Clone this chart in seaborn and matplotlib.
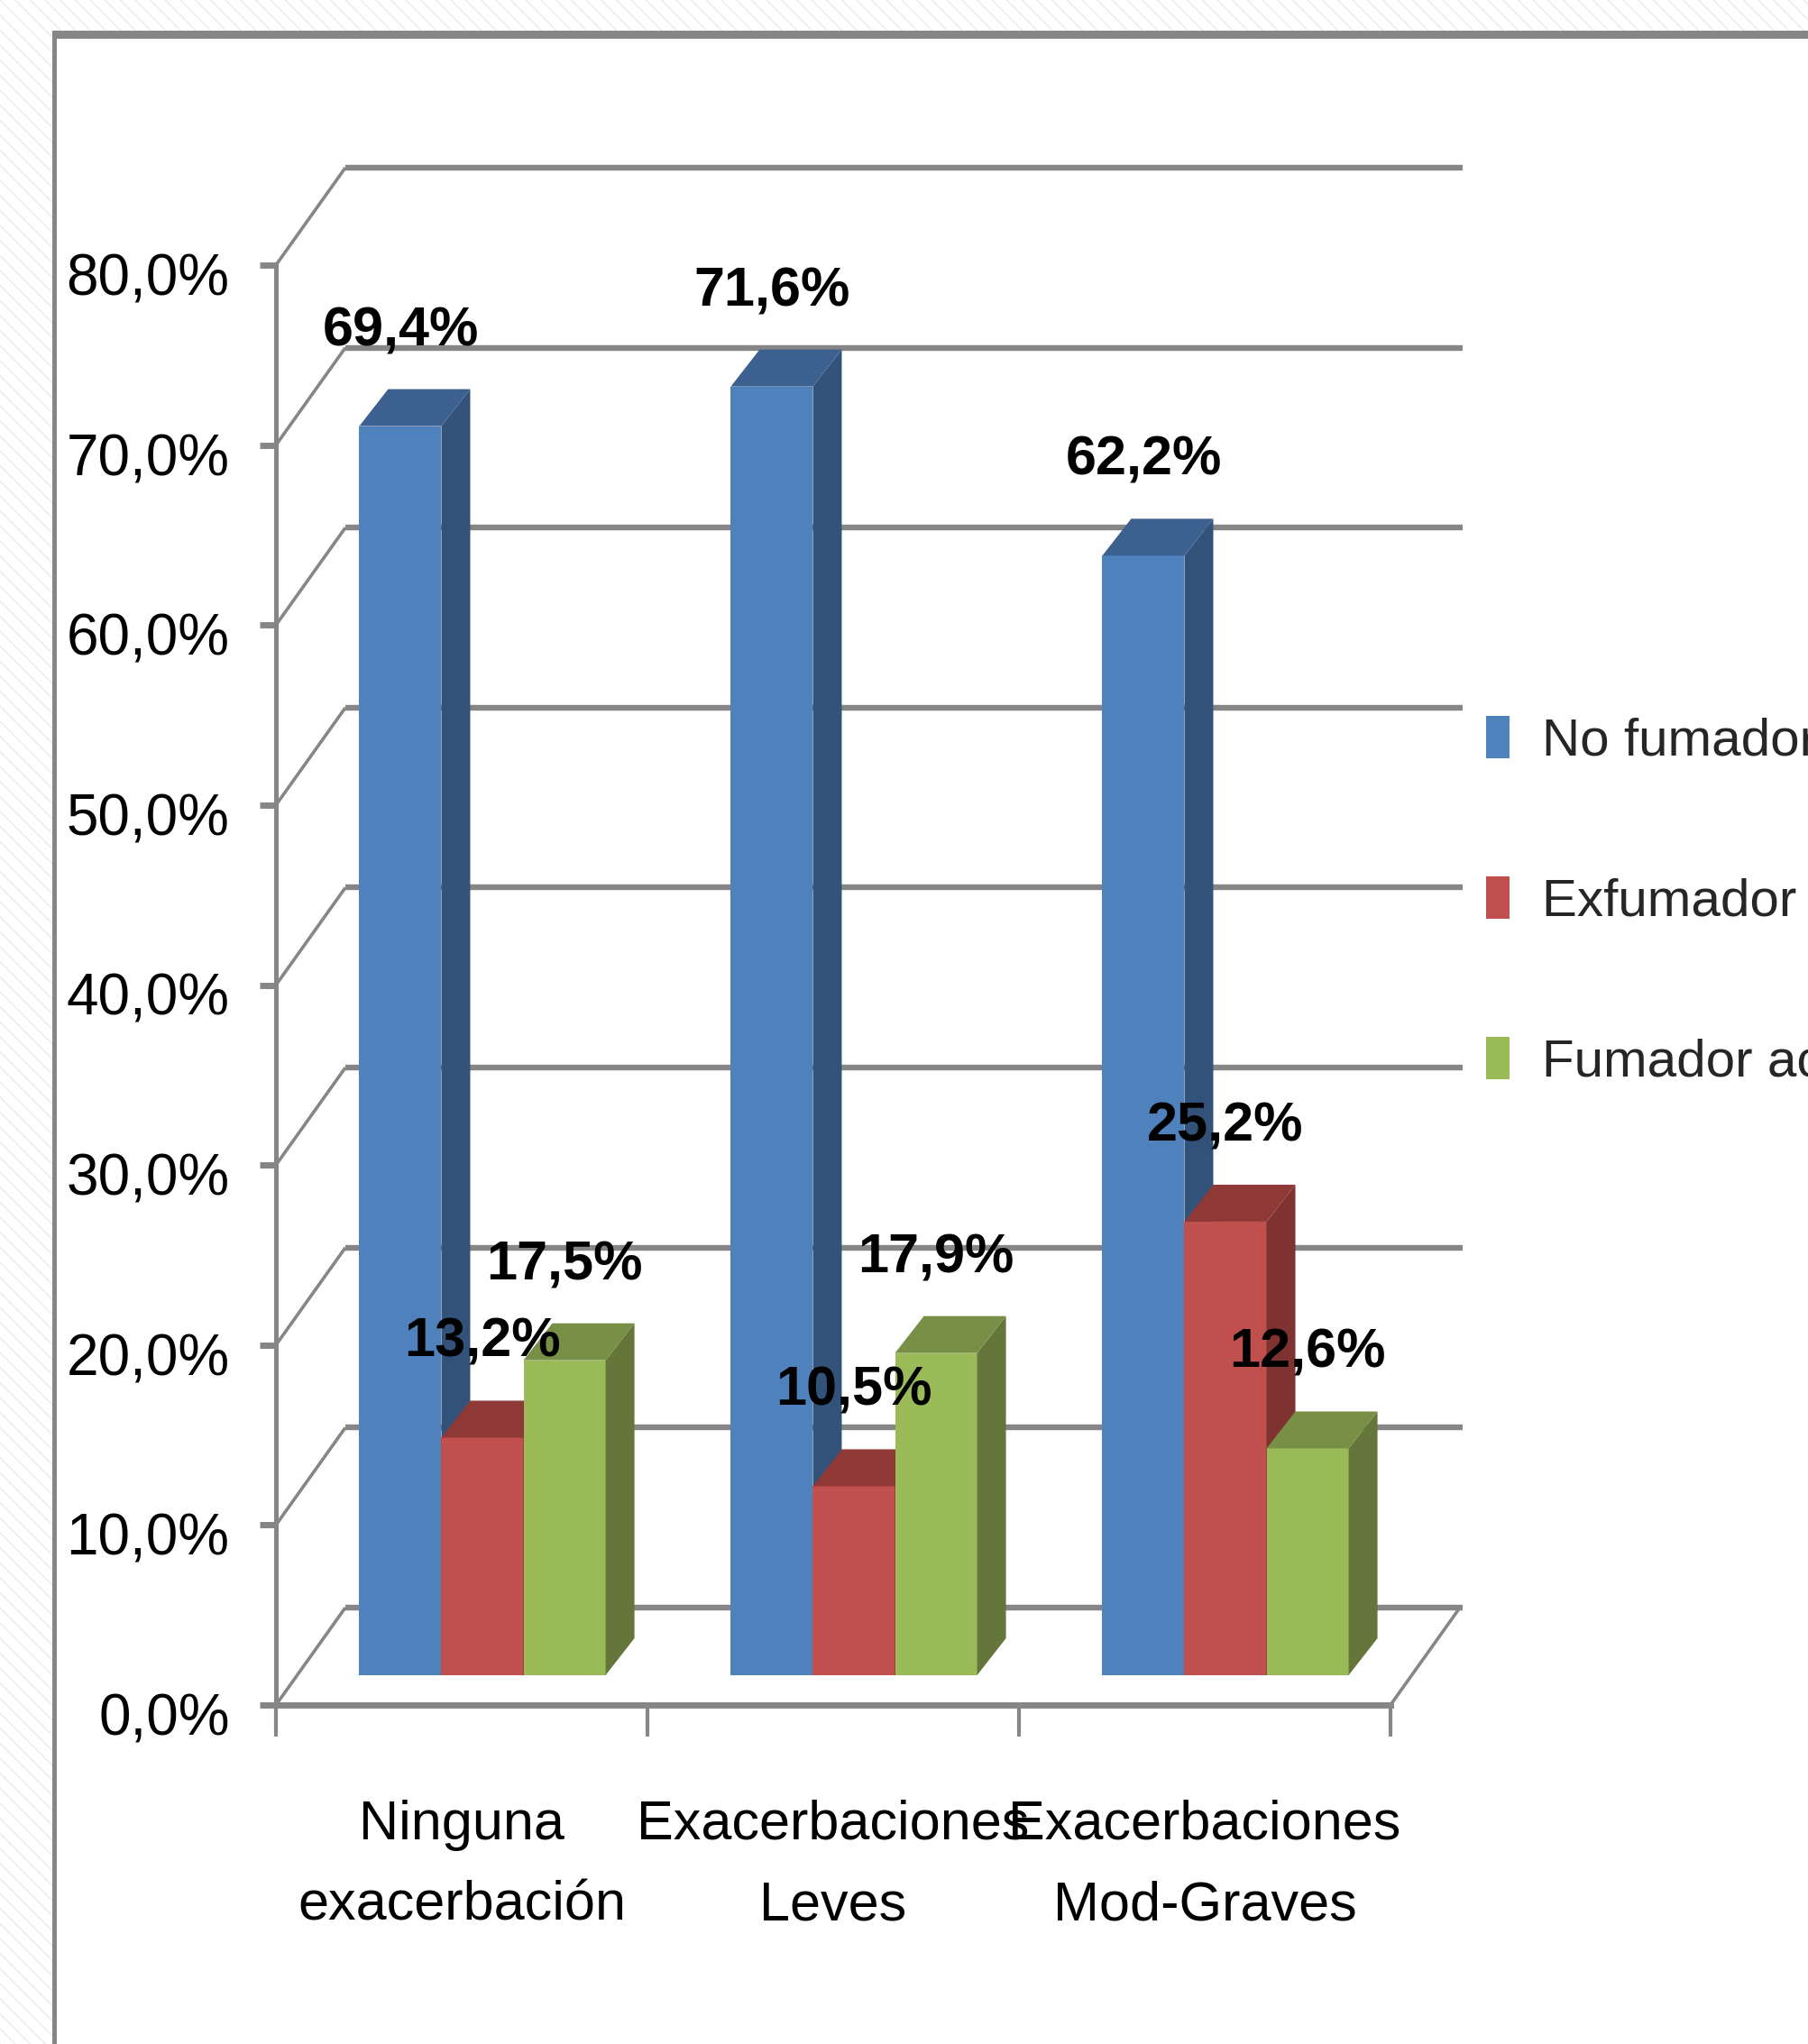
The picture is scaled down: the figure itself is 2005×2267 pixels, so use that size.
import pandas as pd
import seaborn as sns
from matplotlib import pyplot as plt
from matplotlib.patches import Patch, Polygon, Rectangle
from matplotlib.transforms import ScaledTranslation

categories = ["Ninguna\nexacerbación", "Exacerbaciones\nLeves", "Exacerbaciones\nMod-Graves"]
series_names = ["No fumador", "Exfumador (1 año)", "Fumador activo"]
no_fumador = [69.4, 71.6, 62.2]
exfumador = [13.2, 10.5, 25.2]
fumador_activo = [17.5, 17.9, 12.6]
y_ticks = [0, 10, 20, 30, 40, 50, 60, 70, 80]

front_colors = ["#4F81BD", "#C0504D", "#9BBB59"]
side_colors = ["#325279", "#7F3331", "#65763A"]
top_colors = ["#3C6090", "#8E3936", "#788F46"]
line_color = "#868686"

W, H = 2005, 2267
sns.set_style("white")
plt.rcParams['font.family'] = ['Liberation Sans Narrow', 'Liberation Sans', 'DejaVu Sans']
plt.rcParams['hatch.linewidth'] = 1.0

rows = []
for name, vals in zip(series_names, [no_fumador, exfumador, fumador_activo]):
    for cat, v in zip(categories, vals):
        rows.append({"cat": cat, "serie": name, "valor": v})
df = pd.DataFrame(rows)

fig = plt.figure(figsize=(W / 100, H / 100), dpi=100)

# hatched slide background, white panel and its grey frame
fig.add_artist(Rectangle((0, 0), 1, 1, transform=fig.transFigure, facecolor="white",
                         edgecolor="#ebebeb", hatch="\\\\", linewidth=0, zorder=-5))
fig.add_artist(Rectangle((60 / W, 0), 1, 1 - 38 / H, transform=fig.transFigure,
                         facecolor="white", edgecolor="none", zorder=-4))
fig.add_artist(Rectangle((58 / W, 1 - 43 / H), 1, 9 / H, transform=fig.transFigure,
                         facecolor=line_color, edgecolor="none", zorder=-3))
fig.add_artist(Rectangle((58 / W, 0), 5 / W, 1 - 34 / H, transform=fig.transFigure,
                         facecolor=line_color, edgecolor="none", zorder=-3))

ax = fig.add_axes([306 / W, 1 - 1891 / H, 1236 / W, 1597 / H])
ax.patch.set_alpha(0)

sns.barplot(data=df, x="cat", y="valor", hue="serie", hue_order=series_names,
            palette=front_colors, saturation=1, width=0.663, gap=0, legend=False,
            ax=ax, linewidth=0)
ax.set_xlim(-0.5, 2.5)
ax.set_ylim(0, 80)
ax.set_xlabel("")
ax.set_ylabel("")
sns.despine(ax=ax)

# pseudo 3d depth, px converted to data units
ux = 1236 / 3
uy = 1597 / 80
wall_x, wall_y = 77 / ux, 108 / uy
bar_x, bar_y = 23 / ux, 33 / uy
depth_x, depth_y = 32 / ux, 41 / uy
grid_end = 2.5 + 80 / ux

for v in y_ticks:
    ax.plot([-0.5, -0.5 + wall_x], [v, v + wall_y], color=line_color, lw=2.6,
            clip_on=False, zorder=1, solid_capstyle="butt")
    ax.plot([-0.5 + wall_x, grid_end], [v + wall_y, v + wall_y], color=line_color, lw=4.6,
            clip_on=False, zorder=1, solid_capstyle="butt")
ax.plot([2.5, 2.5 + wall_x], [0, wall_y], color=line_color, lw=2.6, clip_on=False, zorder=1)

for i, container in enumerate(ax.containers):
    for j, patch in enumerate(container):
        x0 = patch.get_x() + bar_x
        w = patch.get_width()
        h = patch.get_height()
        patch.set_x(x0)
        patch.set_y(bar_y)
        patch.set_clip_on(False)
        z = 3 + i
        patch.set_zorder(z)
        y1 = bar_y + h
        side = [(x0 + w, bar_y), (x0 + w + depth_x, bar_y + depth_y),
                (x0 + w + depth_x, y1 + depth_y), (x0 + w, y1)]
        top = [(x0, y1), (x0 + depth_x, y1 + depth_y),
               (x0 + w + depth_x, y1 + depth_y), (x0 + w, y1)]
        ax.add_patch(Polygon(side, facecolor=side_colors[i], edgecolor="none", clip_on=False, zorder=z))
        ax.add_patch(Polygon(top, facecolor=top_colors[i], edgecolor="none", clip_on=False, zorder=z))
        ax.annotate(f"{h:.1f}%".replace(".", ","), xy=(x0 + w / 2, y1), xytext=(0, 105 * 0.72),
                    textcoords="offset points", ha="center", va="center", fontsize=44,
                    fontweight="bold", color="black", zorder=10, annotation_clip=False)

# axes
for s in ["left", "bottom"]:
    ax.spines[s].set_color(line_color)
ax.spines["left"].set_linewidth(3.6)
ax.spines["bottom"].set_linewidth(5)

ax.set_yticks(y_ticks)
ax.set_yticklabels([f"{v:.1f}%".replace(".", ",") for v in y_ticks])
ax.tick_params(axis="y", left=True, length=13, width=5, color=line_color, pad=24,
               labelsize=46, labelcolor="black")
down = ScaledTranslation(0, -10 / 100, fig.dpi_scale_trans)
for lab in ax.get_yticklabels():
    lab.set_transform(lab.get_transform() + down)

ax.set_xticks([-0.5, 0.5, 1.5, 2.5], minor=True)
ax.tick_params(axis="x", which="minor", bottom=True, length=25, width=3, color=line_color)
ax.tick_params(axis="x", which="major", bottom=False, pad=72, labelsize=44, labelcolor="black")
for lab in ax.get_xticklabels():
    lab.set_linespacing(1.75)

handles = [Patch(facecolor=c, edgecolor="none", label=n) for c, n in zip(front_colors, series_names)]
ax.legend(handles=handles, loc="center left", bbox_to_anchor=(1648 / W, 1 - 1000 / H),
          bbox_transform=fig.transFigure, frameon=False, fontsize=42, handlelength=0.45,
          handleheight=0.85, handletextpad=0.62, labelspacing=2.1, borderpad=0, borderaxespad=0)

fig.savefig("out.png", dpi=100)
